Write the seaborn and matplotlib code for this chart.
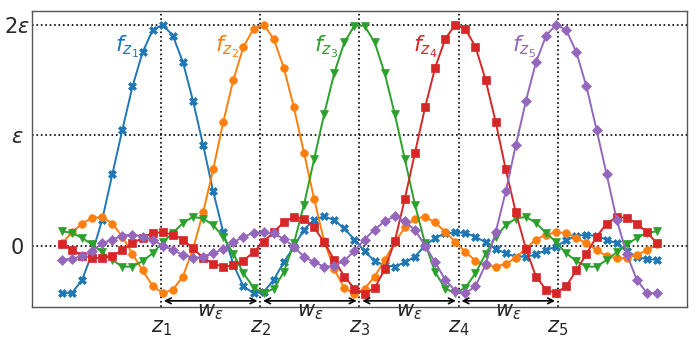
import numpy as np
import matplotlib
matplotlib.use("Agg")
import matplotlib.pyplot as plt
import seaborn as sns

# sample grid (60 points from 0 to 6), centres z_1..z_5
x = np.linspace(0, 6, 60)
centers = [1, 2, 3, 4, 5]
center_labels = [r"$z_1$", r"$z_2$", r"$z_3$", r"$z_4$", r"$z_5$"]
curve_labels = [r"$f_{z_1}$", r"$f_{z_2}$", r"$f_{z_3}$", r"$f_{z_4}$", r"$f_{z_5}$"]
ytick_vals = [0, 1, 2]
ytick_labels = ["0", r"$\varepsilon$", r"$2\varepsilon$"]

# values in units of epsilon
f_z1 = [-0.43, -0.43, -0.31, -0.07, 0.235, 0.645, 1.05, 1.44, 1.75, 1.95,
        2.0, 1.90, 1.66, 1.31, 0.91, 0.49, 0.12, -0.17, -0.37, -0.43,
        -0.42, -0.31, -0.15, -0.01, 0.145, 0.235, 0.265, 0.23, 0.155, 0.055,
        -0.05, -0.14, -0.18, -0.19, -0.15, -0.10, 0.0, 0.07, 0.11, 0.12,
        0.115, 0.08, 0.03, -0.03, -0.07, -0.10, -0.10, -0.08, -0.04, -0.01,
        0.05, 0.085, 0.10, 0.085, 0.055, 0.02, -0.05, -0.10, -0.125, -0.127]
f_z2 = [0.02, 0.12, 0.20, 0.25, 0.26, 0.20, 0.08, -0.075, -0.225, -0.365,
        -0.43, -0.40, -0.28, -0.03, 0.30, 0.69, 1.12, 1.50, 1.80, 1.96,
        2.0, 1.87, 1.61, 1.25, 0.84, 0.425, 0.04, -0.215, -0.385, -0.435,
        -0.39, -0.28, -0.13, 0.03, 0.165, 0.245, 0.26, 0.21, 0.125, 0.035,
        -0.06, -0.135, -0.18, -0.19, -0.165, -0.11, -0.025, 0.055, 0.10, 0.12,
        0.115, 0.07, 0.02, -0.04, -0.095, -0.115, -0.11, -0.085, -0.04, 0.01]
f_z3 = [0.13, 0.115, 0.07, 0.01, -0.06, -0.13, -0.19, -0.19, -0.14, -0.07,
        0.03, 0.115, 0.205, 0.26, 0.245, 0.185, 0.08, -0.075, -0.25, -0.38,
        -0.43, -0.39, -0.24, 0.02, 0.37, 0.78, 1.19, 1.56, 1.84, 1.99,
        1.99, 1.84, 1.56, 1.19, 0.78, 0.37, 0.02, -0.24, -0.39, -0.43,
        -0.38, -0.25, -0.075, 0.08, 0.185, 0.245, 0.26, 0.205, 0.115, 0.03,
        -0.07, -0.14, -0.19, -0.19, -0.13, -0.06, 0.01, 0.07, 0.115, 0.13]
f_z4 = [0.01, -0.04, -0.09, -0.11, -0.115, -0.095, -0.04, 0.02, 0.07, 0.115,
        0.12, 0.10, 0.055, -0.025, -0.11, -0.165, -0.19, -0.18, -0.135, -0.06,
        0.035, 0.125, 0.21, 0.26, 0.245, 0.165, 0.03, -0.13, -0.28, -0.39,
        -0.435, -0.385, -0.215, 0.04, 0.425, 0.84, 1.25, 1.61, 1.87, 2.0,
        1.96, 1.80, 1.50, 1.12, 0.69, 0.30, -0.03, -0.28, -0.40, -0.43,
        -0.365, -0.225, -0.075, 0.08, 0.20, 0.26, 0.25, 0.20, 0.12, 0.02]
f_z5 = [-0.127, -0.12, -0.095, -0.05, 0.02, 0.055, 0.09, 0.10, 0.08, 0.05,
        0.0, -0.04, -0.085, -0.11, -0.105, -0.07, -0.03, 0.03, 0.08, 0.115,
        0.12, 0.11, 0.06, -0.01, -0.10, -0.15, -0.19, -0.185, -0.135, -0.05,
        0.055, 0.145, 0.22, 0.265, 0.22, 0.14, 0.0, -0.15, -0.31, -0.41,
        -0.43, -0.37, -0.17, 0.12, 0.49, 0.91, 1.31, 1.66, 1.90, 2.0,
        1.95, 1.75, 1.44, 1.05, 0.645, 0.235, -0.08, -0.31, -0.43, -0.43]

series = [f_z1, f_z2, f_z3, f_z4, f_z5]
markers = ["X", "o", "v", "s", "D"]
colors = sns.color_palette("tab10", 5)

sns.set_style("white")
fig = plt.figure(figsize=(6.98, 3.49), dpi=100)
ax = fig.add_axes([0.046, 0.12, 0.938, 0.848])

for vals, m, c in zip(series, markers, colors):
    sns.lineplot(x=x, y=vals, ax=ax, color=c, marker=m, markersize=5.5,
                 markeredgecolor=c, markeredgewidth=0.5, linewidth=1.4)

for z, lab, c in zip(centers, curve_labels, colors):
    ax.text(z - 0.34, 1.8, lab, color=c, fontsize=16, ha="center", va="center")

# arrows between neighbouring centres
for a, b in zip(centers[:-1], centers[1:]):
    ax.annotate("", xy=(b, -0.5), xytext=(a, -0.5),
                arrowprops=dict(arrowstyle="<->", color="black", lw=1.2))
    ax.text((a + b) / 2, -0.6, r"$w_\varepsilon$", fontsize=15,
            ha="center", va="center", clip_on=False)

ax.set_xticks(centers)
ax.set_xticklabels(center_labels, fontsize=15)
ax.set_yticks(ytick_vals)
ax.set_yticklabels(ytick_labels, fontsize=15)
ax.tick_params(axis="x", length=0, pad=8)
ax.tick_params(axis="y", length=0, pad=11)
for lbl in ax.get_yticklabels():
    lbl.set_ha("center")
ax.grid(True, linestyle=":", color="black", linewidth=1.2)
for s in ax.spines.values():
    s.set_color("#555555")
    s.set_linewidth(1.0)

fig.savefig("out.png", dpi=100)
